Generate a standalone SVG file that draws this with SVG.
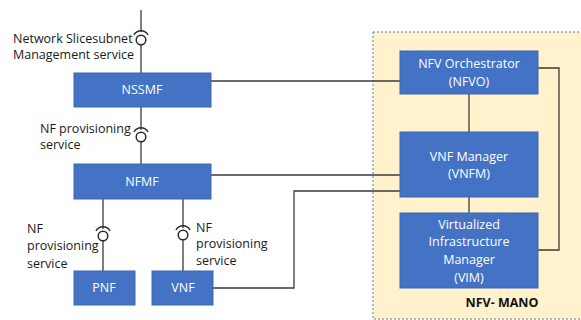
<svg xmlns="http://www.w3.org/2000/svg" width="581" height="320" viewBox="0 0 581 320">
<defs>
<style>
.box{fill:#4472C4;stroke:#3b66b3;stroke-width:1}
.bt{font-family:"Open Sans","Liberation Sans",sans-serif;font-size:12.5px;fill:#ffffff;text-anchor:middle}
.lbl{font-family:"Open Sans","Liberation Sans",sans-serif;font-size:12.5px;fill:#1a1a1a}
.ln{fill:none;stroke:#3a3a3a;stroke-width:1.3}
.sock{fill:#ffffff;stroke:#2a2a2a;stroke-width:1.5}
.arc{fill:none;stroke:#2a2a2a;stroke-width:1.5}
</style>
<g id="sk">
<path class="arc" d="M-7,-5 A8,8 0 0 1 7,-5"/>
<circle class="sock" cx="0" cy="0" r="4.8"/>
</g>
</defs>
<g id="mano">
<rect x="373" y="32" width="212" height="287" fill="#FFF2CC" stroke="#5a7bb5" stroke-width="1" stroke-dasharray="2,2"/>
<text x="502" y="307" font-family="Open Sans, Liberation Sans, sans-serif" font-size="12.5" font-weight="bold" fill="#111" text-anchor="middle">NFV- MANO</text>
</g>
<g id="connectors">
<path class="ln" d="M141,10 V32"/>
<path class="ln" d="M141,45 V73"/>
<path class="ln" d="M141,107 V130"/>
<path class="ln" d="M141,142 V164"/>
<path class="ln" d="M103,199 V229"/>
<path class="ln" d="M103,241 V271"/>
<path class="ln" d="M183,199 V228"/>
<path class="ln" d="M183,240 V271"/>
<path class="ln" d="M211,81 H400"/>
<path class="ln" d="M211,175 H400"/>
<path class="ln" d="M213,288 H294 V191 H400"/>
<path class="ln" d="M469,94 V132"/>
<path class="ln" d="M469,197 V213"/>
<path class="ln" d="M538,68 H559 V250 H538"/>
<use href="#sk" x="141" y="40"/>
<use href="#sk" x="141" y="137"/>
<use href="#sk" x="103" y="236"/>
<use href="#sk" x="183" y="235"/>
</g>
<g id="labels">
<text class="lbl" x="13" y="43">Network Slicesubnet</text>
<text class="lbl" x="13" y="59">Management service</text>
<text class="lbl" x="40" y="133">NF provisioning</text>
<text class="lbl" x="40" y="149">service</text>
<text class="lbl" x="27" y="233">NF</text>
<text class="lbl" x="27" y="250">provisioning</text>
<text class="lbl" x="27" y="268">service</text>
<text class="lbl" x="196" y="232">NF</text>
<text class="lbl" x="196" y="248">provisioning</text>
<text class="lbl" x="196" y="265">service</text>
</g>
<g id="nssmf"><rect class="box" x="74" y="73" width="137" height="34"/><text class="bt" x="142" y="94">NSSMF</text></g>
<g id="nfmf"><rect class="box" x="74" y="164" width="137" height="35"/><text class="bt" x="142" y="186">NFMF</text></g>
<g id="pnf"><rect class="box" x="74" y="271" width="61" height="34"/><text class="bt" x="104" y="292">PNF</text></g>
<g id="vnf"><rect class="box" x="152" y="271" width="61" height="34"/><text class="bt" x="183" y="292">VNF</text></g>
<g id="nfvo"><rect class="box" x="400" y="51" width="138" height="43"/><text class="bt" x="469" y="68">NFV Orchestrator</text><text class="bt" x="469" y="86">(NFVO)</text></g>
<g id="vnfm"><rect class="box" x="400" y="132" width="138" height="65"/><text class="bt" x="469" y="161">VNF Manager</text><text class="bt" x="469" y="178">(VNFM)</text></g>
<g id="vim"><rect class="box" x="400" y="213" width="138" height="75"/><text class="bt" x="469" y="229">Virtualized</text><text class="bt" x="469" y="246">Infrastructure</text><text class="bt" x="469" y="264">Manager</text><text class="bt" x="469" y="282">(VIM)</text></g>
</svg>
